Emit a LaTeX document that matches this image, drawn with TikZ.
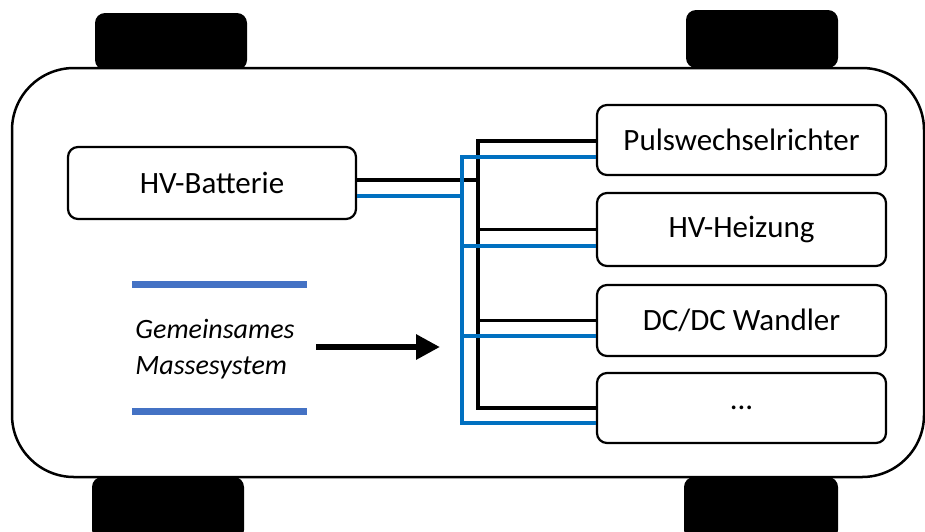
\documentclass[tikz,border=0pt]{standalone}
\usepackage{fontspec}
\setmainfont{Carlito}
\usetikzlibrary{arrows.meta}
\definecolor{wireblue}{HTML}{0070C0}
\definecolor{barblue}{HTML}{4472C4}
\tikzset{
  box/.style={draw=black, line width=2.2pt, rounded corners=10pt, fill=white,
    minimum width=289pt, inner sep=0pt, font=\fontsize{31}{36}\selectfont},
  wheel/.style={fill=black, rounded corners=10pt},
  blk/.style={draw=black, line width=3.5pt, line join=miter},
  blu/.style={draw=wireblue, line width=3.5pt, line join=miter},
  gndbar/.style={draw=barblue, line width=7pt},
}
\begin{document}
\begin{tikzpicture}[x=1pt, y=-1pt]
\useasboundingbox (0,0) rectangle (925,531);
% wheels
\fill[wheel] (95,13) rectangle (247,70);
\fill[wheel] (686,10) rectangle (838,68);
\fill[wheel] (92,477) rectangle (244,540);
\fill[wheel] (684,477) rectangle (838,540);
% body
\draw[line width=2.5pt, rounded corners=62pt, fill=white] (12,68) rectangle (924,477);
% boxes
\node[box, minimum width=288pt, minimum height=72pt] (bat) at (212,183) {HV-Batterie};
\node[box, minimum height=70pt] (pwr) at (741.5,140) {Pulswechselrichter};
\node[box, minimum height=73pt] (heiz) at (741.5,229.5) {HV-Heizung};
\node[box, minimum height=71pt] (dc) at (741.5,320.5) {DC/DC Wandler};
\node[box, minimum height=70pt] (more) at (741.5,408) {...};
% junction coordinates
\coordinate (kb) at (478,180);
\coordinate (bb) at (462,196);
% black wires
\draw[blk] (bat.east |- kb) -- (kb);
\draw[blk] ([yshift=-1pt]pwr.west) -| (more.west -| kb) -- (more.west);
\draw[blk] (heiz.west) -- (heiz.west -| kb);
\draw[blk] (dc.west) -- (dc.west -| kb);
% blue wires
\draw[blu] (bat.east |- bb) -- (bb);
\draw[blu] ([yshift=-17pt]pwr.west) -| ([yshift=-15pt]more.west -| bb) -- ([yshift=-15pt]more.west);
\draw[blu] ([yshift=-16.5pt]heiz.west) -- ([yshift=-16.5pt]heiz.west -| bb);
\draw[blu] ([yshift=-15.5pt]dc.west) -- ([yshift=-15.5pt]dc.west -| bb);
% ground system
\draw[gndbar] (132,284) -- (307,284);
\draw[gndbar] (132,411) -- (307,411);
\node[align=left, inner sep=0pt, font=\fontsize{28}{36}\selectfont\itshape] (mass) at (215,349) {Gemeinsames\\Massesystem};
\coordinate (arrS) at (316,347);
\coordinate (arrE) at (440,347);
\draw[line width=6pt, -{Triangle[length=24pt,width=24pt]}] (arrS) -- (arrE);
\end{tikzpicture}
\end{document}
